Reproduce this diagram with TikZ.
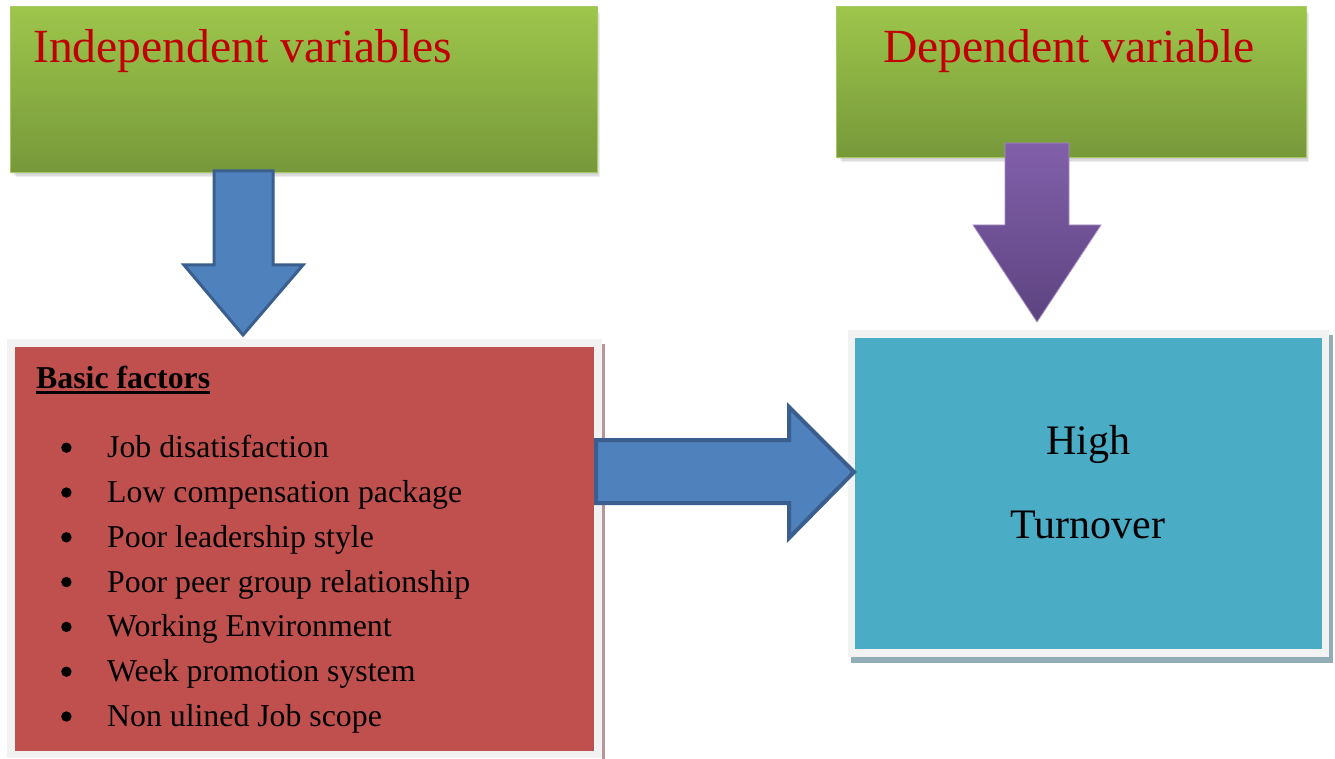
\documentclass[tikz,border=0pt]{standalone}
\usepackage{fontspec}
\setmainfont{Liberation Serif}
\definecolor{gtop}{HTML}{9DC64B}
\definecolor{gbot}{HTML}{77983A}
\definecolor{gedge}{HTML}{A6CA62}
\definecolor{titlered}{HTML}{C00000}
\definecolor{bluefill}{HTML}{4F81BD}
\definecolor{blueedge}{HTML}{3A5F8F}
\definecolor{ptop}{HTML}{8160AA}
\definecolor{pbot}{HTML}{5D4380}
\definecolor{redfill}{HTML}{C0504D}
\definecolor{cyanfill}{HTML}{4BACC6}
\definecolor{framegray}{HTML}{F2F2F2}
\definecolor{cshadow}{HTML}{93ADB6}
\definecolor{rshadow}{HTML}{B9949A}
\begin{document}
\begin{tikzpicture}[x=1pt,y=-1pt,
  box/.style={anchor=north west, inner sep=0pt, outer sep=0pt, draw=none},
  greenbox/.style={box, top color=gtop, bottom color=gbot, draw=gedge, line width=1pt},
  title/.style={anchor=base west, inner sep=0pt, text=titlered, font=\fontsize{47.6}{56}\selectfont},
  item/.style={anchor=base west, inner sep=0pt, font=\fontsize{31.8}{38}\selectfont},
  result/.style={anchor=base, inner sep=0pt, font=\fontsize{42}{50}\selectfont},
  blockarrow/.style={fill=bluefill, draw=blueedge, line join=miter},
  softshadow/.style={fill=black, opacity=0.07}
]
\useasboundingbox (0,0) rectangle (1335,759);
\fill[white] (0,0) rectangle (1335,759);

% soft shadows of the green boxes
\foreach \d in {2,4,6}{
  \fill[softshadow] (10+\d,7+\d) rectangle (597+\d*0.5,173+\d*0.7);
  \fill[softshadow] (836+\d,7+\d) rectangle (1306+\d*0.5,158+\d*0.7);
}

% green boxes
\node[greenbox, minimum width=587pt, minimum height=166pt] (indep) at (10,7) {};
\node[greenbox, minimum width=470pt, minimum height=151pt] (dep) at (836,7) {};
\node[title] (indeptxt) at (33,63) {Independent variables};
\node[title] (deptxt) at (883,63) {Dependent variable};

% red box with frame
\fill[rshadow] (602,344) rectangle (605,759);
\node[box, fill=framegray, minimum width=595pt, minimum height=419pt] (redframe) at (7,339) {};
\node[box, fill=redfill, minimum width=579pt, minimum height=403.5pt] (factors) at (15,347) {};

% cyan box with frame
\fill[cshadow] (851,335) rectangle (1333,663);
\node[box, fill=framegray, minimum width=481pt, minimum height=327pt] (cyanframe) at (848,330) {};
\node[box, fill=cyanfill, minimum width=467pt, minimum height=311pt] (turnover) at (855,338) {};

% blue down arrow
\draw[blockarrow, line width=3pt] (214,171) -- (273,171) -- (273,265) -- (303,265)
  -- (243,335) -- (184,265) -- (214,265) -- cycle;

% purple down arrow
\shade[top color=ptop, bottom color=pbot] (1005,143) -- (1069,143) -- (1069,225) -- (1101,225)
  -- (1037,322) -- (973,225) -- (1005,225) -- cycle;
\draw[ptop!70!white, line width=0.8pt, line join=miter] (1005,143) -- (1069,143) -- (1069,225) -- (1101,225)
  -- (1037,322) -- (973,225) -- (1005,225) -- cycle;

% blue right arrow
\draw[blockarrow, line width=4pt] (596,440) -- (789,440) -- (789,407) -- (854,472)
  -- (789,538) -- (789,503) -- (596,503) -- cycle;

% basic factors text
\node[item, font=\fontsize{31.8}{38}\selectfont\bfseries] (basic) at (36,388) {Basic factors};
\draw[line width=2.2pt] ([yshift=-4.5pt]basic.base west) -- ([yshift=-4.5pt]basic.base east);

\foreach \t [count=\i from 0] in {Job disatisfaction, Low compensation package, Poor leadership style,
   Poor peer group relationship, Working Environment, Week promotion system, Non ulined Job scope}{
  \pgfmathsetmacro{\yy}{457.7+44.8*\i}
  \node[item] (it\i) at (107,\yy) {\t};
  \fill (66.4,\yy-10) circle (5.2pt);
}

% result text
\node[result] (high) at (1088,454) {High};
\node[result] (turn) at (1088,538) {Turnover};
\end{tikzpicture}
\end{document}
